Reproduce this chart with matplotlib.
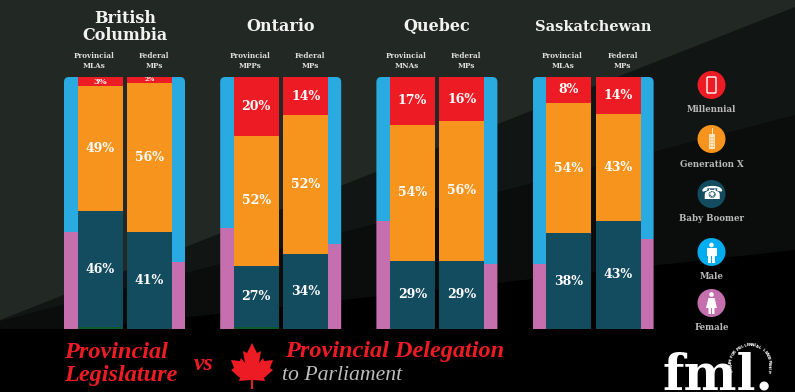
#!/usr/bin/env python3
# generational makeup of provincial legislatures vs federal delegations
import math
import matplotlib
matplotlib.use("Agg")
import matplotlib.pyplot as plt
from matplotlib.patches import Circle, FancyBboxPatch, Polygon, Rectangle

W, H = 795, 392
TOP, BOT = 77, 329     # bars, in px

provinces = ["British\nColumbia", "Ontario", "Quebec", "Saskatchewan"]
bodies_prov = ["Provincial\nMLAs", "Provincial\nMPPs", "Provincial\nMNAs", "Provincial\nMLAs"]
bodies_fed = ["Federal\nMPs", "Federal\nMPs", "Federal\nMPs", "Federal\nMPs"]

# bar heights as drawn (%), the printed labels do not always add up to 100
prov_other = [0.6, 0.6, 0, 0]
prov_boomer = [46.2, 24.3, 27.1, 38.0]
prov_genx = [49.5, 51.8, 53.9, 51.7]
prov_mill = [3.7, 23.3, 19.0, 10.3]
fed_boomer = [38.6, 29.9, 27.1, 42.9]
fed_genx = [59.1, 54.9, 55.4, 42.5]
fed_mill = [2.3, 15.2, 17.5, 14.6]
prov_female = [38.6, 40.2, 42.9, 25.9]
fed_female = [26.7, 33.8, 25.9, 35.8]

prov_boomer_lbl = [46, 27, 29, 38]
prov_genx_lbl = [49, 52, 54, 54]
prov_mill_lbl = [3, 20, 17, 8]
fed_boomer_lbl = [41, 34, 29, 43]
fed_genx_lbl = [56, 52, 56, 43]
fed_mill_lbl = [2, 14, 16, 14]

legend_names = ["Millennial", "Generation X", "Baby Boomer", "Male", "Female"]

RED = "#ed1c24"; ORANGE = "#f7941e"; TEAL = "#134b5f"; BLUE = "#29abe2"
PINK = "#c66fae"; GREEN = "#0c5c2c"; MALE = "#00aeef"
SERIF = "DejaVu Serif"
FOOT = "Liberation Serif"

fig = plt.figure(figsize=(W / 100, H / 100), dpi=100, facecolor="black")

# --- background, px coordinates: bands fan out from the left edge ---
bg = fig.add_axes([0, 0, 1, 1], zorder=0)
bg.set_xlim(0, W); bg.set_ylim(H, 0); bg.axis("off")
bg.add_patch(Rectangle((0, 0), W, H, fc="#000000", ec="none"))
bg.add_patch(Polygon([(0, 0), (W, 0), (W, 250), (0, 338)], fc="#0a0d0b", ec="none"))
bg.add_patch(Polygon([(0, 0), (W, 0), (W, 115), (0, 321)], fc="#111513", ec="none"))
bg.add_patch(Polygon([(0, 0), (W, 0), (W, 7), (0, 320)], fc="#222824", ec="none"))
bg.add_patch(Rectangle((0, BOT), W, H - BOT, fc="#000000", ec="none"))

# --- bars ---
ax = fig.add_axes([0, (H - BOT) / H, 1, (BOT - TOP) / H], zorder=1)
ax.set_xlim(0, W); ax.set_ylim(0, 100); ax.axis("off")
ax.patch.set_alpha(0)

STEP = 156.2
BAR_W = 45
for i in range(len(provinces)):
    x0 = 64 + i * STEP
    xp = x0 + 36
    xf = x0 + 85.5
    # gender strips sit behind the bars, rounded at the outer top corners
    r = 5
    clip = FancyBboxPatch((x0 + r, TOP + r), 121 - 2 * r, 300, boxstyle=f"round,pad={r}",
                          transform=bg.transData)
    for xs, fem in ((x0 + 7, prov_female[i]), (x0 + 114.5, fed_female[i])):
        a = ax.bar(xs, fem, 14, color=PINK)
        b = ax.bar(xs, 100 - fem, 14, bottom=fem, color=BLUE)
        for p in list(a) + list(b):
            p.set_clip_path(clip.get_path(), clip.get_transform())
    # provincial
    ax.bar(xp, prov_other[i], BAR_W, color=GREEN)
    y = prov_other[i]
    for v, c, l in ((prov_boomer[i], TEAL, prov_boomer_lbl[i]), (prov_genx[i], ORANGE, prov_genx_lbl[i]),
                    (prov_mill[i], RED, prov_mill_lbl[i])):
        ax.bar(xp, v, BAR_W, bottom=y, color=c)
        ax.text(xp, y + v / 2, f"{l}%", ha="center", va="center", color="white", family=SERIF,
                fontweight="bold", fontsize=6 if l < 5 else 9)
        y += v
    # federal
    y = 0
    for v, c, l in ((fed_boomer[i], TEAL, fed_boomer_lbl[i]), (fed_genx[i], ORANGE, fed_genx_lbl[i]),
                    (fed_mill[i], RED, fed_mill_lbl[i])):
        ax.bar(xf, v, BAR_W, bottom=y, color=c)
        ax.text(xf, y + v / 2, f"{l}%", ha="center", va="center", color="white", family=SERIF,
                fontweight="bold", fontsize=4.5 if l < 3 else 9)
        y += v

# --- text and icons, px coordinates ---
ov = fig.add_axes([0, 0, 1, 1], zorder=2)
ov.set_xlim(0, W); ov.set_ylim(H, 0); ov.axis("off"); ov.patch.set_alpha(0)

title_x = [125, 281, 437, 593]
title_fs = [11.5, 11.5, 11.5, 10.5]
for i, name in enumerate(provinces):
    ov.text(title_x[i], 26.5, name, ha="center", va="center", color="#f2f2f2", family=SERIF,
            fontweight="bold", fontsize=title_fs[i], linespacing=1.0)
    x0 = 64 + i * STEP
    ov.text(x0 + 30, 61, bodies_prov[i], ha="center", va="center", color="#dddddd", family=SERIF,
            fontweight="bold", fontsize=5.2, linespacing=1.25)
    ov.text(x0 + 90, 61, bodies_fed[i], ha="center", va="center", color="#dddddd", family=SERIF,
            fontweight="bold", fontsize=5.2, linespacing=1.25)

# legend
LX = 711.5
ly = [85, 139, 194, 252, 303]
ty = [109.5, 164.5, 218.5, 276.5, 328]
lc = [RED, ORANGE, TEAL, MALE, PINK]
for name, y, t, c in zip(legend_names, ly, ty, lc):
    ov.add_patch(Circle((LX, y), 14, fc=c, ec="none"))
    ov.text(LX, t, name, ha="center", va="center", color="#b9b9b9", family=SERIF,
            fontweight="bold", fontsize=6.2)
# smartphone
ov.add_patch(FancyBboxPatch((LX - 3.5, 78), 7, 14, boxstyle="round,pad=1", fc="none", ec="white", lw=1))
# brick phone, keypad dots in the circle colour
ov.add_patch(Rectangle((LX - 2.5, 134), 6, 15, fc="#fde3c0", ec="none"))
ov.add_patch(Rectangle((LX + 0.5, 128), 1.3, 6, fc="#fde3c0", ec="none"))
for row in range(4):
    for col in (-1, 1):
        ov.add_patch(Circle((LX + 0.5 + col * 1.3, 138 + row * 2.8), 0.6, fc=ORANGE, ec="none"))
# rotary phone
ov.text(LX, 194, "\u260e", ha="center", va="center", color="white", fontsize=13, family="DejaVu Sans")
# male
ov.add_patch(Circle((LX, 245), 2.3, fc="white", ec="none"))
ov.add_patch(Polygon([(LX - 5, 248), (LX + 5, 248), (LX + 5, 256), (LX + 3.2, 256), (LX + 3.2, 263),
                      (LX + .4, 263), (LX + .4, 256), (LX - .4, 256), (LX - .4, 263), (LX - 3.2, 263),
                      (LX - 3.2, 256), (LX - 5, 256)], fc="white", ec="none"))
# female
ov.add_patch(Circle((LX, 294.5), 2.3, fc="white", ec="none"))
ov.add_patch(Polygon([(LX - 3, 298), (LX + 3, 298), (LX + 5.5, 308), (LX + 3, 308), (LX + 3, 314),
                      (LX + .5, 314), (LX + .5, 308), (LX - .5, 308), (LX - .5, 314), (LX - 3, 314),
                      (LX - 3, 308), (LX - 5.5, 308)], fc="white", ec="none"))

# footer
ov.text(64, 352, "Provincial", color=RED, family=FOOT, style="italic", fontweight="bold", fontsize=17.5, va="center")
ov.text(64, 375, "Legislature", color=RED, family=FOOT, style="italic", fontweight="bold", fontsize=17.5, va="center")
ov.text(194, 364, "vs", color=RED, family=FOOT, style="italic", fontweight="bold", fontsize=17, va="center")
ov.text(285, 352, "Provincial Delegation", color=RED, family=FOOT, style="italic", fontweight="bold", fontsize=17.5, va="center")
ov.text(282, 376, "to Parliament", color="#bdbdbd", family=FOOT, style="italic", fontsize=15.7, va="center")

# maple leaf
cx, cy, s = 252, 366, 1.0
leaf = [(0, -23), (-5, -13), (-9, -15), (-7, -3), (-11, -8), (-12, -5), (-21, -6), (-18, 2), (-21, 4),
        (-12, 12), (-13, 15), (-1, 14), (-1, 23), (1, 23), (1, 14), (13, 15), (12, 12), (21, 4), (18, 2),
        (21, -6), (12, -5), (11, -8), (7, -3), (9, -15), (5, -13)]
ov.add_patch(Polygon([(cx + s * a, cy + s * b) for a, b in leaf], fc=RED, ec="none"))

# logo, sits right on the bottom edge like the original
ov.text(662, 390, "fml.", color="white", family=SERIF, fontweight="bold", fontsize=36, va="baseline", ha="left")
ring = "FORUM FOR MILLENNIAL LEADERSHIP"
rx, ry, rr = 750, 364, 19
for k, ch in enumerate(ring):
    ang = math.radians(-200 + 220 * k / (len(ring) - 1))
    ov.text(rx + rr * math.cos(ang), ry + rr * math.sin(ang), ch, color="white", fontsize=3,
            fontweight="bold", ha="center", va="center", rotation=-math.degrees(ang) - 90)

fig.savefig("out.png", dpi=100, facecolor="black")
